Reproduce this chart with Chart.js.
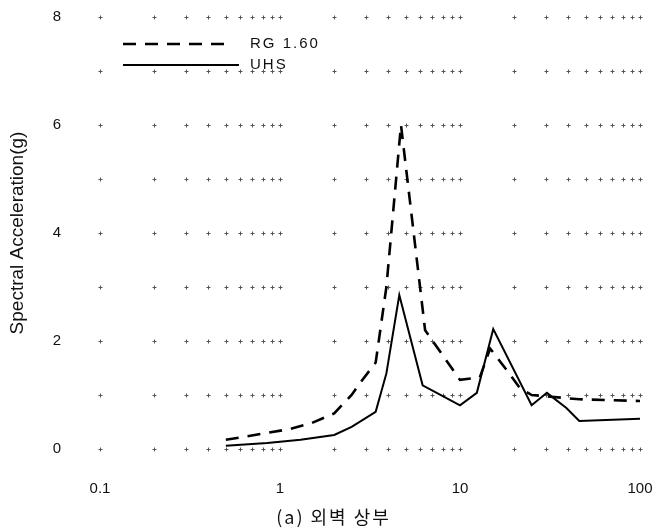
<!DOCTYPE html>
<html>
<head>
<meta charset="utf-8">
<script src="https://cdn.jsdelivr.net/npm/chart.js@4.4.1/dist/chart.umd.min.js"></script>
<style>
  html, body { margin: 0; padding: 0; background: #fff; }
  #wrap { position: relative; width: 659px; height: 530px; }
  #caption {
    position: absolute; left: 0; width: 659px; top: 504px;
    text-align: center; padding-left: 8px; box-sizing: border-box;
    font: 18px "Noto Sans CJK KR", sans-serif; line-height: 24px;
    letter-spacing: 2px; color: #111;
  }
</style>
</head>
<body>
<div id="wrap">
  <canvas id="spectrum" width="659" height="530"></canvas>
  <div id="caption">(a) 외벽 상부</div>
</div>
<script>
// ---- 응답스펙트럼 데이터 (주파수 Hz / 스펙트럼 가속도 g) ----
const rgFreq  = [0.5, 0.62, 0.85, 1.14, 1.5, 2.0, 2.5, 2.78, 3.4, 3.9, 4.7, 6.4, 10, 12.9, 14.7, 18.2, 21.5, 25, 46, 100];
const rgAccel = [0.17, 0.22, 0.3, 0.37, 0.48, 0.66, 1.0, 1.22, 1.6, 3.0, 6.0, 2.2, 1.28, 1.33, 1.86, 1.46, 1.13, 1.0, 0.92, 0.89];

const uhsFreq  = [0.5, 0.85, 1.3, 2.0, 2.5, 3.4, 3.9, 4.6, 6.2, 10, 12.4, 15.3, 25, 30.4, 39, 46, 100];
const uhsAccel = [0.06, 0.11, 0.17, 0.26, 0.41, 0.69, 1.4, 2.85, 1.18, 0.81, 1.04, 2.22, 0.81, 1.04, 0.76, 0.52, 0.56];

const xTickValues = [0.1, 1, 10, 100];
const seriesLabels = ['RG 1.60', 'UHS'];

const FONT = '"Liberation Sans", Arial, sans-serif';
const INK = '#111';

// 로그 보조눈금(1~9 x 10^n) 위치 — 격자 교차점 표시용
const gridFreqs = [];
[0.1, 1, 10].forEach((d) => {
  for (let k = 1; k < 10; k++) gridFreqs.push(+(d * k).toPrecision(3));
});
gridFreqs.push(100);
const gridAccels = [0, 1, 2, 3, 4, 5, 6, 7, 8];

const toPoints = (xs, ys) => xs.map((x, i) => ({ x, y: ys[i] }));

// 점선 격자 대신 교차점에 작은 '+' 표시
const plusGrid = {
  id: 'plusGrid',
  beforeDatasetsDraw(chart) {
    const { ctx, scales: { x, y } } = chart;
    ctx.save();
    ctx.strokeStyle = '#555';
    ctx.lineWidth = 1;
    ctx.beginPath();
    gridAccels.forEach((gy) => {
      const py = Math.round(y.getPixelForValue(gy)) + 0.5;
      gridFreqs.forEach((gx) => {
        const px = Math.round(x.getPixelForValue(gx)) + 0.5;
        ctx.moveTo(px - 2, py); ctx.lineTo(px + 2, py);
        ctx.moveTo(px, py - 2); ctx.lineTo(px, py + 2);
      });
    });
    ctx.stroke();
    ctx.restore();
  }
};

// 그래프 안쪽 좌상단 범례
const insideLegend = {
  id: 'insideLegend',
  afterDatasetsDraw(chart) {
    const { ctx, chartArea } = chart;
    const x0 = chartArea.left + 23;
    const rows = [
      { y: chartArea.top + 27, len: 106 },
      { y: chartArea.top + 48, len: 116 }
    ];
    ctx.save();
    chart.data.datasets.forEach((ds, i) => {
      const r = rows[i];
      ctx.strokeStyle = ds.borderColor;
      ctx.lineWidth = ds.borderWidth;
      ctx.setLineDash(ds.borderDash || []);
      ctx.beginPath();
      ctx.moveTo(x0, r.y);
      ctx.lineTo(x0 + r.len, r.y);
      ctx.stroke();
      ctx.setLineDash([]);
      ctx.fillStyle = INK;
      ctx.font = '15px ' + FONT;
      ctx.textBaseline = 'middle';
      ctx.textAlign = 'left';
      ctx.letterSpacing = '2px';
      ctx.fillText(ds.label, x0 + 127, r.y);
    });
    ctx.restore();
  }
};

// 눈금선은 숨기고, 눈금 길이만 라벨 간격으로 사용
const hiddenTicks = (len) => ({
  display: true,
  drawOnChartArea: false,
  drawTicks: true,
  tickLength: len,
  color: 'rgba(0,0,0,0)'
});

new Chart(document.getElementById('spectrum'), {
  type: 'line',
  data: {
    datasets: [
      {
        label: seriesLabels[0],
        data: toPoints(rgFreq, rgAccel),
        borderColor: '#000',
        borderWidth: 2.6,
        borderDash: [13, 9],
        pointRadius: 0,
        tension: 0,
        fill: false
      },
      {
        label: seriesLabels[1],
        data: toPoints(uhsFreq, uhsAccel),
        borderColor: '#000',
        borderWidth: 2,
        pointRadius: 0,
        tension: 0,
        fill: false
      }
    ]
  },
  plugins: [plusGrid, insideLegend],
  options: {
    responsive: false,
    animation: false,
    devicePixelRatio: 1,
    layout: { padding: { top: 17, right: 19, left: 0, bottom: 23 } },
    plugins: {
      legend: { display: false },
      tooltip: { enabled: false }
    },
    scales: {
      x: {
        type: 'logarithmic',
        min: 0.1,
        max: 100,
        afterBuildTicks: (scale) => { scale.ticks = xTickValues.map((v) => ({ value: v })); },
        afterFit: (scale) => { scale.height = 58; },
        ticks: {
          autoSkip: false,
          maxRotation: 0,
          padding: 3,
          color: INK,
          font: { family: FONT, size: 15 },
          callback: (v) => String(v)
        },
        grid: hiddenTicks(28),
        border: { display: false }
      },
      y: {
        min: 0,
        max: 8,
        afterFit: (scale) => { scale.width = 100; },
        ticks: {
          stepSize: 2,
          padding: 4,
          color: INK,
          font: { family: FONT, size: 15 }
        },
        title: {
          display: true,
          text: 'Spectral Acceleration(g)',
          color: INK,
          font: { family: FONT, size: 19 },
          padding: { top: 6, bottom: 0 }
        },
        grid: hiddenTicks(35),
        border: { display: false }
      }
    }
  }
});
</script>
</body>
</html>
